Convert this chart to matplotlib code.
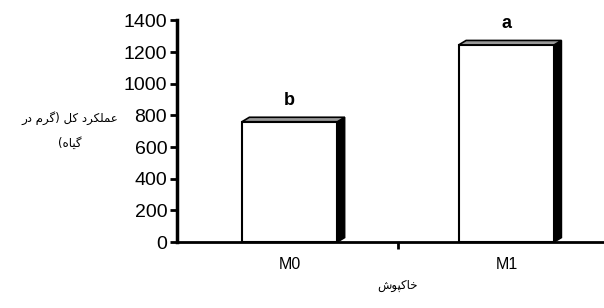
import matplotlib
matplotlib.use("Agg")
from matplotlib import pyplot as plt
from matplotlib.patches import Polygon
import numpy as np

# data
categories = ["M0", "M1"]
values = [760, 1245]
letters = ["b", "a"]
yticks = [0, 200, 400, 600, 800, 1000, 1200, 1400]
ylabel_lines = ["عملکرد کل (گرم در", "گیاه)"]
xlabel = "خاکپوش"

# minimal Arabic/Persian shaping (matplotlib does no shaping or bidi)
FORMS = {
    "ع": ("\uFEC9", "\uFECA", "\uFECB", "\uFECC"),
    "م": ("\uFEE1", "\uFEE2", "\uFEE3", "\uFEE4"),
    "ل": ("\uFEDD", "\uFEDE", "\uFEDF", "\uFEE0"),
    "ک": ("\uFB8E", "\uFB8F", "\uFB90", "\uFB91"),
    "گ": ("\uFB92", "\uFB93", "\uFB94", "\uFB95"),
    "ی": ("\uFBFC", "\uFBFD", "\uFBFE", "\uFBFF"),
    "ه": ("\uFEE9", "\uFEEA", "\uFEEB", "\uFEEC"),
    "خ": ("\uFEA5", "\uFEA6", "\uFEA7", "\uFEA8"),
    "پ": ("\uFB56", "\uFB57", "\uFB58", "\uFB59"),
    "ش": ("\uFEB5", "\uFEB6", "\uFEB7", "\uFEB8"),
    "ر": ("\uFEAD", "\uFEAE"),
    "د": ("\uFEA9", "\uFEAA"),
    "ا": ("\uFE8D", "\uFE8E"),
    "و": ("\uFEED", "\uFEEE"),
}
MIRROR = {"(": ")", ")": "("}


def shape(text):
    out = []
    for i, ch in enumerate(text):
        if ch not in FORMS:
            out.append(MIRROR.get(ch, ch))
            continue
        prev = text[i - 1] if i > 0 else ""
        nxt = text[i + 1] if i + 1 < len(text) else ""
        join_prev = prev in FORMS and len(FORMS[prev]) == 4
        join_next = nxt in FORMS and len(FORMS[ch]) == 4
        f = FORMS[ch]
        if join_prev and join_next:
            out.append(f[3])
        elif join_prev:
            out.append(f[1])
        elif join_next:
            out.append(f[2])
        else:
            out.append(f[0])
    return "".join(reversed(out))


plt.rcParams['font.family'] = ['Liberation Sans', 'DejaVu Sans']

fig = plt.figure(figsize=(6.04, 3.08), dpi=100)
ax = fig.add_axes([0.293, 0.214, 0.707, 0.72])

x = np.arange(len(categories))
width = 0.44
dx = 0.034   # depth of the 3d side, data units
dy = 28

for xi, v, lab in zip(x, values, letters):
    right = xi + width / 2
    left = xi - width / 2
    side = Polygon([(right, 0), (right, v), (right + dx, v + dy), (right + dx, dy)],
                   closed=True, facecolor='black', edgecolor='black', lw=1, zorder=3)
    top = Polygon([(left, v), (left + dx, v + dy), (right + dx, v + dy), (right, v)],
                  closed=True, facecolor='#999999', edgecolor='black', lw=1.2, zorder=3)
    ax.add_patch(side)
    ax.add_patch(top)
    ax.text(xi, v + dy + 55, lab, ha='center', va='bottom', fontsize=13, fontweight='bold')

ax.bar(x, values, width=width, color='white', edgecolor='black', linewidth=1.5, zorder=2)

ax.set_ylim(0, 1400)
ax.set_xlim(-0.52, 1.45)
ax.set_yticks(yticks)
ax.set_xticks(x)
ax.set_xticklabels(categories, fontsize=11.5)
ax.set_xticks([0.5], minor=True)
ax.tick_params(axis='x', which='major', length=0, pad=11)
ax.tick_params(axis='x', which='minor', length=5, width=2, direction='out')
ax.tick_params(axis='y', length=5, width=2, labelsize=14, pad=2)

for s in ['top', 'right']:
    ax.spines[s].set_visible(False)
ax.spines['left'].set_linewidth(2.5)
ax.spines['bottom'].set_linewidth(2)

for i, line in enumerate(ylabel_lines):
    fig.text(70 / 604, 1 - (118 + i * 25) / 308, shape(line), ha='center', va='center',
             fontsize=8.5, family=['DejaVu Sans'])
fig.text(397 / 604, 1 - 286 / 308, shape(xlabel), ha='center', va='center',
         fontsize=8.5, family=['DejaVu Sans'])

fig.savefig('out.png', dpi=100)
